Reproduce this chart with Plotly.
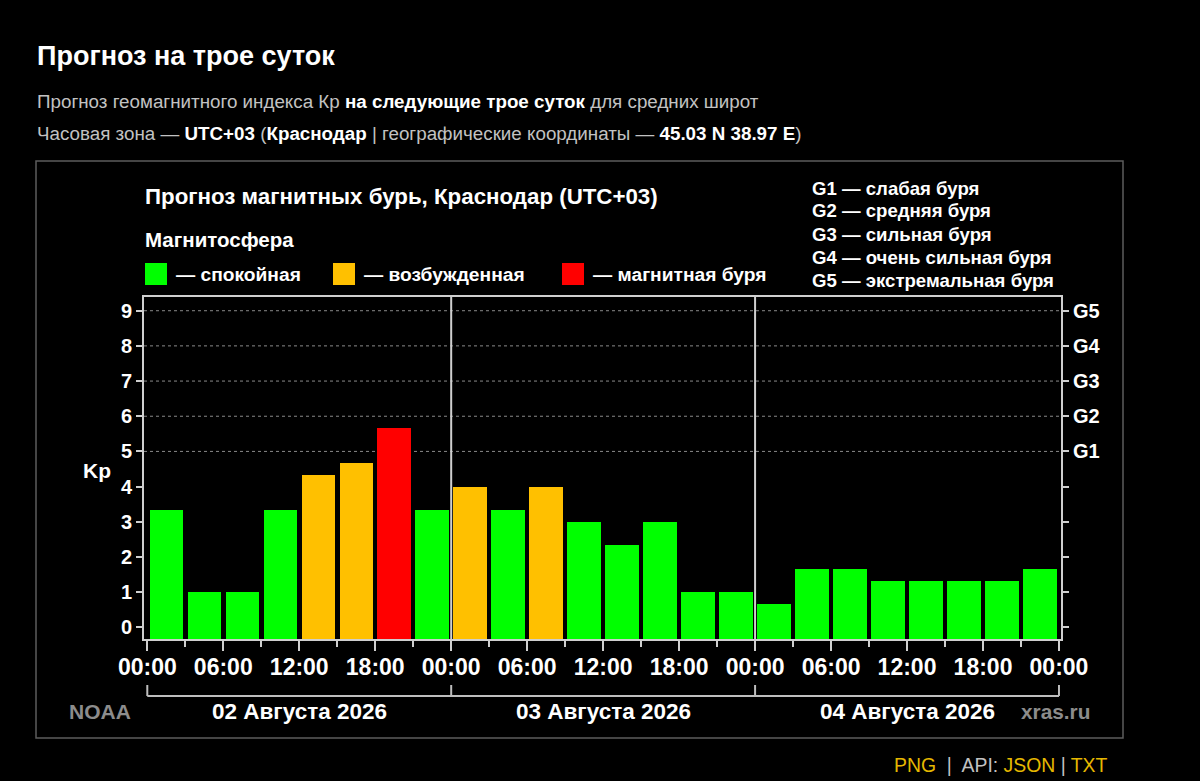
import plotly.graph_objects as go

# ---------------- data ----------------
DATES = ["02 Августа 2026", "03 Августа 2026", "04 Августа 2026"]
KP_DAY1 = [3.33, 1.0, 1.0, 3.33, 4.33, 4.67, 5.67, 3.33]
KP_DAY2 = [4.0, 3.33, 4.0, 3.0, 2.33, 3.0, 1.0, 1.0]
KP_DAY3 = [0.67, 1.67, 1.67, 1.33, 1.33, 1.33, 1.33, 1.67]
SLOT_HOURS = 3
TIME_LABELS = ["00:00", "06:00", "12:00", "18:00"]
KP_TICKS = [0, 1, 2, 3, 4, 5, 6, 7, 8, 9]
G_LEVELS = [5, 6, 7, 8, 9]
G_LABELS = ["G1", "G2", "G3", "G4", "G5"]
G_DESCR = ["G1 — слабая буря", "G2 — средняя буря", "G3 — сильная буря",
           "G4 — очень сильная буря", "G5 — экстремальная буря"]
STATES = ["— спокойная", "— возбужденная", "— магнитная буря"]
STATE_COLORS = ["#00ff00", "#ffc000", "#ff0000"]

# ---------------- derived ----------------
kp = KP_DAY1 + KP_DAY2 + KP_DAY3
hours = [SLOT_HOURS * i + SLOT_HOURS / 2 for i in range(len(kp))]
total_h = SLOT_HOURS * len(kp)
day_h = total_h // len(DATES)


def state_color(v):
    if v >= 5:
        return STATE_COLORS[2]
    if v >= 4:
        return STATE_COLORS[1]
    return STATE_COLORS[0]


colors = [state_color(v) for v in kp]
YMIN, YMAX = -0.333, 9.39
XMIN, XMAX = -0.26, total_h + 0.16

W, H = 1200, 781
def px(x): return x / W
def py(y): return 1 - y / H

FONT = "Liberation Sans, Arial, sans-serif"
FRAME = "#cfcfcf"

fig = go.Figure()
fig.add_trace(go.Bar(
    x=hours, y=[v - YMIN for v in kp], base=YMIN,
    width=2.64, marker=dict(color=colors, line=dict(width=0)),
    customdata=kp, hovertemplate="%{customdata}<extra></extra>",
    showlegend=False,
))
# invisible trace to activate right axis
fig.add_trace(go.Scatter(x=[hours[0]], y=[0], yaxis="y2", mode="markers",
                         marker=dict(opacity=0), showlegend=False, hoverinfo="skip"))

tickvals = list(range(0, total_h + 1, 6))
ticktext = [TIME_LABELS[(t % day_h) // 6] for t in tickvals]

fig.update_layout(
    template="none",
    width=W, height=H, autosize=False,
    paper_bgcolor="#000000", plot_bgcolor="#000000",
    margin=dict(l=0, r=0, t=0, b=0, pad=0),
    font=dict(family=FONT, color="#ffffff"),
    bargap=0, showlegend=False,
    xaxis=dict(
        domain=[px(144), px(1061)], range=[XMIN, XMAX], automargin=False,
        tickmode="array", tickvals=tickvals, ticktext=ticktext,
        ticks="outside", ticklen=10, tickwidth=2, tickcolor=FRAME,
        ticklabelstandoff=-4,
        minor=dict(tickmode="linear", tick0=0, dtick=SLOT_HOURS, ticks="outside",
                   ticklen=6, tickwidth=2, tickcolor=FRAME, showgrid=False),
        tickfont=dict(family=FONT, size=23, color="#ffffff", weight="bold"),
        showline=True, linecolor=FRAME, linewidth=2, mirror=True,
        showgrid=False, zeroline=False, fixedrange=True,
    ),
    yaxis=dict(
        domain=[py(639), py(297)], range=[YMIN, YMAX], automargin=False,
        tickmode="array", tickvals=KP_TICKS,
        ticks="outside", ticklen=6, tickwidth=2, tickcolor=FRAME,
        tickfont=dict(family=FONT, size=20, color="#ffffff", weight="bold"),
        showline=True, linecolor=FRAME, linewidth=2, mirror=True,
        showgrid=False, zeroline=False, fixedrange=True,
    ),
    yaxis2=dict(
        overlaying="y", side="right", range=[YMIN, YMAX], automargin=False,
        tickmode="array", tickvals=KP_TICKS,
        ticktext=[""] * (len(KP_TICKS) - len(G_LABELS)) + G_LABELS,
        ticks="outside", ticklen=6, tickwidth=2, tickcolor=FRAME,
        tickfont=dict(family=FONT, size=20, color="#ffffff", weight="bold"),
        showline=True, linecolor=FRAME, linewidth=2,
        showgrid=False, zeroline=False, fixedrange=True,
    ),
)

shapes = []
# outer panel
shapes.append(dict(type="rect", xref="paper", yref="paper", x0=px(36), x1=px(1123),
                   y0=py(738), y1=py(161), line=dict(color="#5c5c5c", width=1.5)))
# dotted gridlines
for g in G_LEVELS:
    shapes.append(dict(type="line", xref="x domain", yref="y", x0=0, x1=1, y0=g, y1=g,
                       line=dict(color="#8a8a8a", width=1, dash="dot"), layer="below"))
# day dividers
for d in range(1, len(DATES)):
    shapes.append(dict(type="line", xref="x", yref="y domain", x0=d * day_h, x1=d * day_h,
                       y0=0, y1=1, line=dict(color=FRAME, width=2), layer="above"))
# date brackets
shapes.append(dict(type="line", xref="x", yref="paper", x0=0, x1=total_h,
                   y0=py(696), y1=py(696), line=dict(color="#bdbdbd", width=2)))
for d in range(len(DATES) + 1):
    shapes.append(dict(type="line", xref="x", yref="paper", x0=d * day_h, x1=d * day_h,
                       y0=py(685), y1=py(696), line=dict(color="#bdbdbd", width=2)))
# legend squares
sq_x = [145, 333, 562]
for xs, c in zip(sq_x, STATE_COLORS):
    shapes.append(dict(type="rect", xref="paper", yref="paper", x0=px(xs), x1=px(xs + 22),
                       y0=py(285), y1=py(263), fillcolor=c, line=dict(width=0)))
fig.update_layout(shapes=shapes)

ann = []
def text(x, y, s, size, color="#ffffff", bold=True, xanchor="left"):
    if xanchor == "left":
        x -= 2
    elif xanchor == "right":
        x += 2
    ann.append(dict(xref="paper", yref="paper", x=px(x), y=py(y), text=s, showarrow=False,
                    xanchor=xanchor, yanchor="middle",
                    font=dict(family=FONT, size=size, color=color,
                              weight="bold" if bold else "normal")))

GRAY = "#c2c2c2"
text(37, 56, "Прогноз на трое суток", 27)
text(37, 101, f"<span style='color:{GRAY}'>Прогноз геомагнитного индекса Кр </span>"
     f"<b>на следующие трое суток</b><span style='color:{GRAY}'> для средних широт</span>",
     18.8, bold=False)
text(37, 133, f"<span style='color:{GRAY}'>Часовая зона — </span><b>UTC+03</b>"
     f"<span style='color:{GRAY}'> (</span><b>Краснодар</b>"
     f"<span style='color:{GRAY}'> | географические координаты — </span>"
     f"<b>45.03 N 38.97 E</b><span style='color:{GRAY}'>)</span>", 18.8, bold=False)

text(145, 196, "Прогноз магнитных бурь, Краснодар (UTC+03)", 22.3)
text(145, 240, "Магнитосфера", 20.5)
for xs, s in zip(sq_x, STATES):
    text(xs + 31, 274, s, 19.2)
for i, s in enumerate(G_DESCR):
    text(812, 188 + 23 * i, s, 18.6)

text(97, 470, "Kp", 21, xanchor="center")
for i, dname in enumerate(DATES):
    ann.append(dict(xref="x", yref="paper", x=i * day_h + day_h / 2, y=py(711), text=dname,
                    showarrow=False, xanchor="center", yanchor="middle",
                    font=dict(family=FONT, size=22.5, color="#ffffff", weight="bold")))
text(100, 711, "NOAA", 21, color="#8c8c8c", xanchor="center")
text(1055, 711, "xras.ru", 20.8, color="#8c8c8c", xanchor="center")

GOLD = "#e6b800"
text(1108, 765, f"<span style='color:{GOLD}'>PNG</span>"
     f"<span style='color:{GRAY}'>  |  API: </span><span style='color:{GOLD}'>JSON</span>"
     f"<span style='color:{GRAY}'> | </span><span style='color:{GOLD}'>TXT</span>",
     19.4, bold=False, xanchor="right")

fig.update_layout(annotations=ann)
fig.write_html("out.html", config={"displayModeBar": False},
               post_script="document.body.style.margin='0';")
